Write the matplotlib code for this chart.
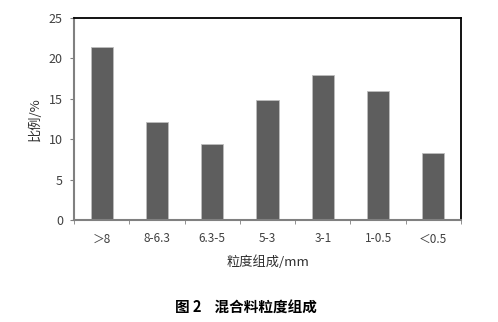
import matplotlib
matplotlib.use("Agg")
import matplotlib.pyplot as plt
import numpy as np

plt.rcParams['font.family'] = ['Noto Sans CJK SC', 'DejaVu Sans']

categories = ['＞8', '8-6.3', '6.3-5', '5-3', '3-1', '1-0.5', '＜0.5']
values = [21.4, 12.1, 9.4, 14.8, 17.9, 16.0, 8.3]
yticks = [0, 5, 10, 15, 20, 25]

fig = plt.figure(figsize=(4.98, 3.22), dpi=100)
ax = fig.add_axes([74/498, 1-220/322, 387/498, 202/322])
x = np.arange(len(categories))
ax.bar(x, values, width=0.4, color='#5e5e5e', edgecolor='#bdbdbd', linewidth=0.6)
ax.set_xlim(-0.5, len(categories)-0.5)
ax.set_ylim(0, 25)
ax.set_yticks(yticks)
ax.set_xticks(x)
ax.set_xticklabels(categories)
ax.set_xticks(np.arange(-0.5, len(categories)), minor=True)
ax.tick_params(axis='x', which='major', length=0, pad=9, labelsize=8.5, colors='#404040')
ax.tick_params(axis='x', which='minor', length=3, color='#808080', direction='out')
ax.tick_params(axis='y', length=3, color='#808080', labelsize=9, colors='#404040', pad=5)
for s in ['left', 'bottom']:
    ax.spines[s].set_color('#808080')
    ax.spines[s].set_linewidth(1.5)
for s in ['top', 'right']:
    ax.spines[s].set_color('#000000')
    ax.spines[s].set_linewidth(1.3)
ax.set_ylabel('比例/%', fontsize=9.5, color='#303030', labelpad=5)
ax.set_xlabel('粒度组成/mm', fontsize=9.5, color='#303030', labelpad=7)
fig.text(0.493, 1-308/322, '图 2    混合料粒度组成', ha='center', va='center',
         fontsize=10.5, fontweight='bold', color='#000000')
fig.savefig('out.png', dpi=100)
